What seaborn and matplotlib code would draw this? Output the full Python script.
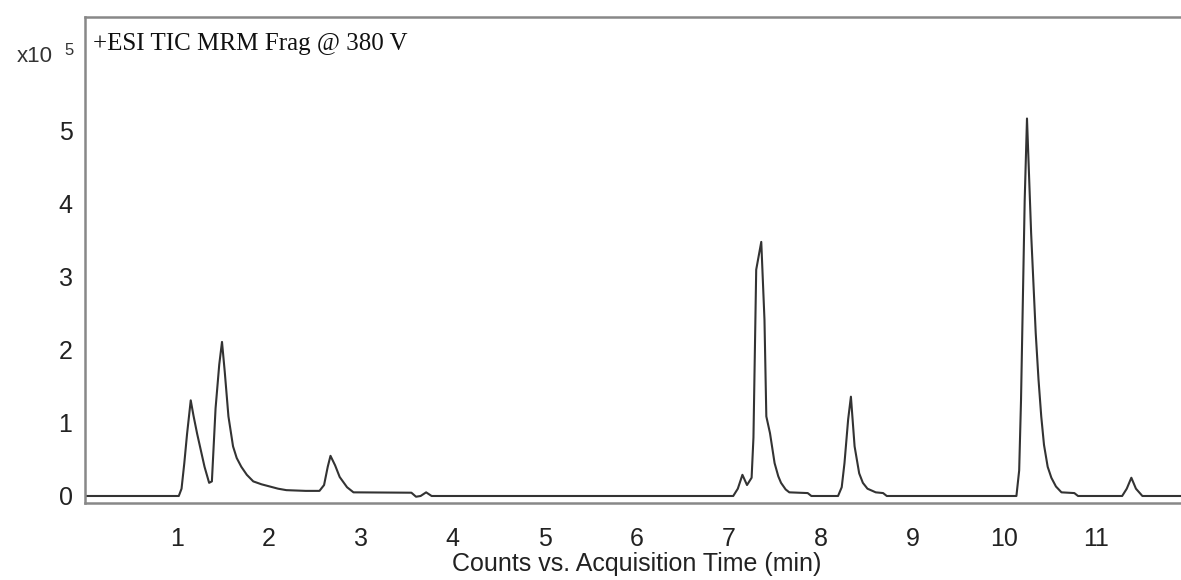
import numpy as np
import pandas as pd
import matplotlib
matplotlib.use("Agg")
import matplotlib.pyplot as plt
import seaborn as sns

# chromatogram trace (time in min, counts in x10^5)
times = [0.0, 1.02, 1.05, 1.08, 1.11, 1.15, 1.18, 1.22, 1.30, 1.35, 1.38, 1.42,
         1.46, 1.49, 1.52, 1.56, 1.61, 1.65, 1.70, 1.76, 1.83, 1.92, 2.01, 2.10,
         2.19, 2.40, 2.55, 2.60, 2.64, 2.67, 2.72, 2.77, 2.85, 2.92, 3.55, 3.60,
         3.65, 3.71, 3.77, 7.05, 7.10, 7.15, 7.20, 7.25, 7.27, 7.30, 7.355, 7.39,
         7.41, 7.45, 7.50, 7.54, 7.57, 7.62, 7.66, 7.86, 7.90, 8.19, 8.23, 8.26,
         8.30, 8.33, 8.37, 8.42, 8.46, 8.51, 8.60, 8.68, 8.72, 10.13, 10.16,
         10.18, 10.22, 10.245, 10.29, 10.34, 10.37, 10.40, 10.43, 10.47, 10.51,
         10.56, 10.62, 10.76, 10.80, 11.28, 11.33, 11.38, 11.43, 11.50, 11.92]
counts = [0.0, 0.0, 0.10, 0.45, 0.85, 1.31, 1.10, 0.85, 0.40, 0.18, 0.20, 1.20,
          1.80, 2.11, 1.70, 1.09, 0.68, 0.52, 0.40, 0.29, 0.20, 0.16, 0.13, 0.10,
          0.08, 0.07, 0.07, 0.15, 0.40, 0.55, 0.42, 0.26, 0.12, 0.05, 0.045, -0.01,
          0.0, 0.05, 0.0, 0.0, 0.10, 0.29, 0.15, 0.25, 0.80, 3.10, 3.48, 2.41,
          1.09, 0.86, 0.45, 0.27, 0.18, 0.09, 0.05, 0.04, 0.0, 0.0, 0.12, 0.45,
          1.05, 1.36, 0.68, 0.31, 0.18, 0.10, 0.05, 0.04, 0.0, 0.0, 0.35,
          1.31, 4.05, 5.17, 3.60, 2.23, 1.60, 1.09, 0.70, 0.40, 0.25,
          0.13, 0.05, 0.04, 0.0, 0.0, 0.10, 0.25, 0.10, 0.0, 0.0]

xticks = [1, 2, 3, 4, 5, 6, 7, 8, 9, 10, 11]
yticks = [0, 1, 2, 3, 4, 5]

df = pd.DataFrame({"time": times, "counts": counts})

sns.set_style("white")
plt.rcParams['font.family'] = ['Liberation Sans', 'DejaVu Sans']

fig = plt.figure(figsize=(11.81, 5.80), dpi=100)
ax = fig.add_axes([85/1181, 1 - 503/580, 1 - 85/1181, (503 - 17)/580])

sns.lineplot(data=df, x="time", y="counts", ax=ax, color="#333333",
             linewidth=1.5, estimator=None, sort=False)

ax.set_xlim(0, 11.92)
ax.set_ylim(-0.096, 6.56)
ax.set_xticks(xticks)
ax.set_yticks(yticks)
ax.set_xticklabels([str(t) for t in xticks])
ax.set_yticklabels([str(t) for t in yticks])
ax.tick_params(axis="both", labelsize=18, colors="#777777", labelcolor="#222222",
               length=4, width=1, direction="out")
ax.tick_params(axis="x", pad=13)
ax.tick_params(axis="y", pad=5)
ax.set_ylabel("")
ax.set_xlabel("")

# axis title sits right against the bottom edge, as in the source figure
fig.text(637/1181, 4/580, "Counts vs. Acquisition Time (min)", fontsize=18,
         color="#222222", ha="center", va="bottom")

for side in ["left", "top", "bottom"]:
    ax.spines[side].set_color("#888888")
    ax.spines[side].set_linewidth(1.8)
ax.spines["right"].set_visible(False)

ax.text(0.007, 0.968, "+ESI TIC MRM Frag @ 380 V", transform=ax.transAxes,
        family=["Liberation Serif", "DejaVu Serif"], fontsize=18, color="#111111",
        ha="left", va="top")

fig.text(17/1181, 1 - 62/580, "x10", fontsize=16, color="#333333", ha="left",
         va="baseline")
fig.text(64/1181, 1 - 55/580, "5", fontsize=12, color="#333333", ha="left",
         va="baseline")

fig.savefig("out.png", dpi=100)
